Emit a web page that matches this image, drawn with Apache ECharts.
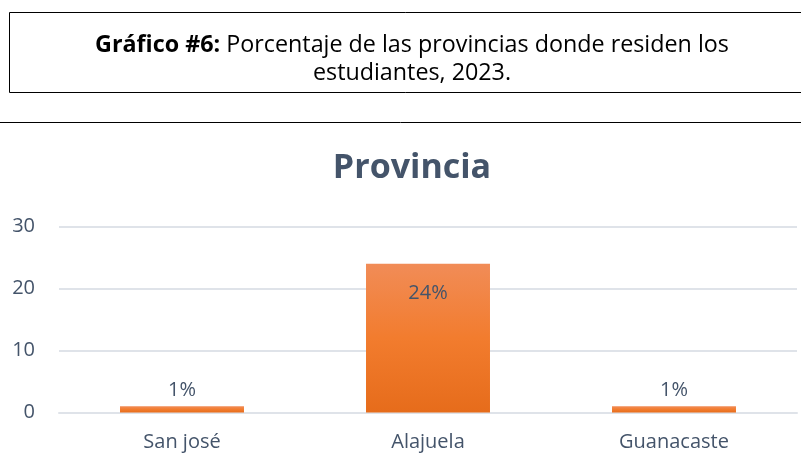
<!DOCTYPE html>
<html><head><meta charset="utf-8">
<script src="https://cdn.jsdelivr.net/npm/echarts@6/dist/echarts.min.js"></script>
<style>html,body{margin:0;padding:0;background:#fff}#c{width:801px;height:467px}</style>
</head><body><div id="c"></div>
<script>
const categories = ["San josé", "Alajuela", "Guanacaste"];
const values = [1, 24, 1];
const valueLabels = ["1%", "24%", "1%"];
const yTicks = [0, 10, 20, 30];
const chartTitle = "Provincia";
const headerBold = "Gráfico #6:";
const headerLine1 = " Porcentaje de las provincias donde residen los";
const headerLine2 = "estudiantes, 2023.";

const chart = echarts.init(document.getElementById('c'), null, {renderer: 'canvas'});
const font = 'Open Sans, Noto Sans, sans-serif';
chart.setOption({
  animation: false,
  backgroundColor: '#fff',
  graphic: [
    {type: 'rect', shape: {x: 9.5, y: 12.5, width: 806, height: 80},
     style: {fill: 'none', stroke: '#000', lineWidth: 1}},
    {type: 'line', shape: {x1: 0, y1: 122.5, x2: 801, y2: 122.5},
     style: {stroke: '#000', lineWidth: 1}},
    {type: 'text', x: 412, y: 45,
     style: {rich: {b: {fontFamily: font, fontWeight: 'bold', fontSize: 23.3, fill: '#000'},
                    n: {fontFamily: font, fontSize: 23.3, fill: '#000'}},
             text: '{b|' + headerBold + '}{n|' + headerLine1 + '}', fill: '#000',
             align: 'center', verticalAlign: 'middle'}},
    {type: 'text', x: 412, y: 73,
     style: {text: headerLine2, fontFamily: font, fontSize: 23.3, fill: '#000',
             align: 'center', verticalAlign: 'middle'}},
    {type: 'text', x: 412, y: 168,
     style: {text: chartTitle, fontFamily: font, fontSize: 34, fontWeight: 'bold', fill: '#44546A',
             align: 'center', verticalAlign: 'middle'}}
  ],
  grid: {left: 59, right: 4, top: 226.5, bottom: 54.5, containLabel: false},
  xAxis: {
    type: 'category', data: categories,
    axisLine: {show: true, lineStyle: {color: '#DFE3E9', width: 2}},
    axisTick: {show: false},
    axisLabel: {fontFamily: font, fontSize: 20, color: '#44546A', margin: 20}
  },
  yAxis: {
    type: 'value', min: yTicks[0], max: yTicks[yTicks.length - 1], interval: 10,
    axisLine: {show: false}, axisTick: {show: false},
    splitLine: {lineStyle: {color: '#DFE3E9', width: 2}},
    axisLabel: {fontFamily: font, fontSize: 20, color: '#44546A', margin: 24}
  },
  series: [{
    type: 'bar', barCategoryGap: '49.6%',
    data: values.map((v, i) => ({
      value: v,
      label: {show: true, position: v > 5 ? 'insideTop' : 'top', distance: v > 5 ? 20 : 6,
              formatter: valueLabels[i], fontFamily: font, fontSize: 20, color: '#44546A'}
    })),
    itemStyle: {color: new echarts.graphic.LinearGradient(0, 0, 0, 1, [
      {offset: 0, color: '#F18C57'}, {offset: 0.5, color: '#F27C2E'}, {offset: 1, color: '#E66C1B'}
    ])}
  }]
});
</script></body></html>
